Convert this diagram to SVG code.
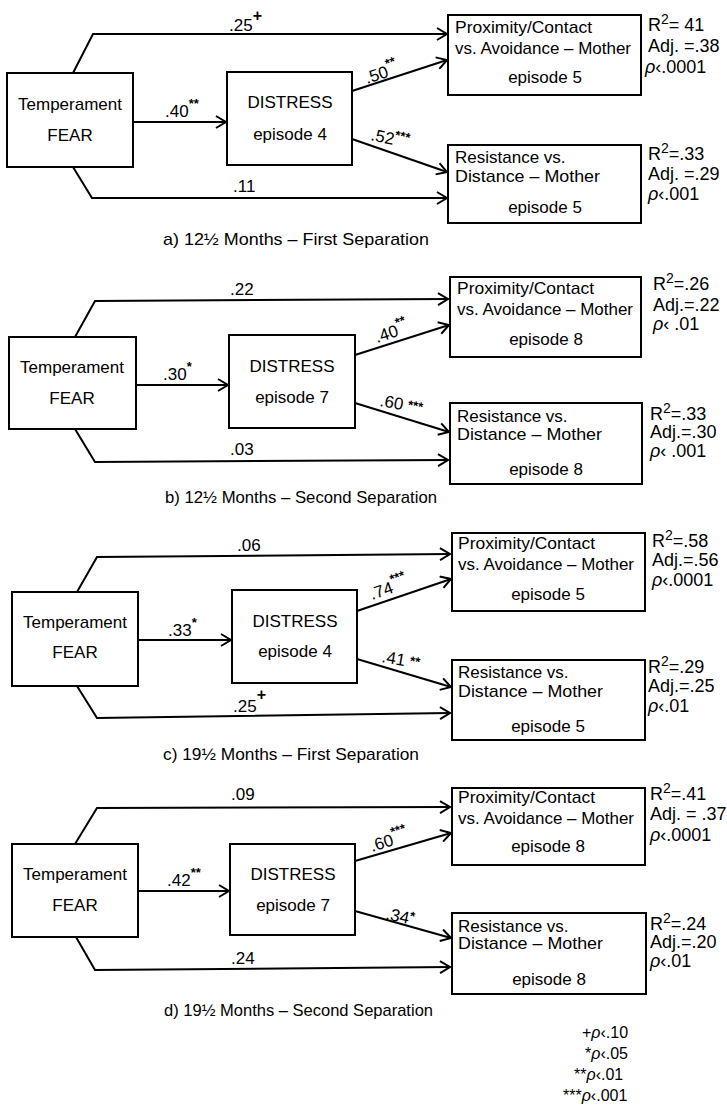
<svg xmlns="http://www.w3.org/2000/svg" width="727" height="1109" viewBox="0 0 727 1109">
<defs>
<marker id="arr" markerUnits="userSpaceOnUse" markerWidth="14" markerHeight="14" refX="11" refY="7" orient="auto">
<path d="M1,1 L11,7 L1,13" fill="none" stroke="#000" stroke-width="2"/>
</marker>
<style>
.box{fill:#fff;stroke:#000;stroke-width:2}
.ln{fill:none;stroke:#000;stroke-width:2;marker-end:url(#arr)}
text{font-family:"Liberation Sans",Arial,sans-serif;font-size:17px;fill:#000}
.c{text-anchor:middle}
.st{font-size:18px}
.sup{font-size:13px;font-weight:bold}
.cap{font-size:17px}
.it{font-style:italic}
.lg{font-size:16px}
</style>
</defs>
<rect width="727" height="1109" fill="#fff"/>

<!-- Panel a -->
<g id="connectors-a">
<path class="ln" d="M73,73 L93,34 L447,34"/>
<path class="ln" d="M73,167 L92,198 L447,198"/>
<path class="ln" d="M133,122 L226,122"/>
<path class="ln" d="M352,91 L447,60"/>
<path class="ln" d="M352,139 L447,172"/>
<text x="229" y="31">.25<tspan dy="-10" font-size="16" font-weight="bold">+</tspan></text>
<text x="165" y="117">.40<tspan class="sup" dy="-9">**</tspan></text>
<text x="233" y="192">.11</text>
<text x="367" y="84" transform="rotate(-18 367 84)">.50<tspan class="sup" dy="-9">**</tspan></text>
<text x="370" y="140" transform="rotate(12 370 140)">.52<tspan class="sup" dy="-6">***</tspan></text>
</g>
<g id="a-temperament"><rect class="box" x="7" y="73" width="126" height="94"/><text class="c" x="70" y="110">Temperament</text><text class="c" x="70" y="141">FEAR</text></g>
<g id="a-distress"><rect class="box" x="227" y="72" width="125" height="93"/><text class="c" x="290" y="108">DISTRESS</text><text class="c" x="290" y="140">episode 4</text></g>
<g id="a-proximity"><rect class="box" x="448" y="15" width="193" height="80"/><text x="455" y="33" textLength="137" lengthAdjust="spacingAndGlyphs">Proximity/Contact</text><text x="455" y="54" textLength="176" lengthAdjust="spacingAndGlyphs">vs. Avoidance – Mother</text><text class="c" x="545" y="83">episode 5</text></g>
<g id="a-resistance"><rect class="box" x="448" y="145" width="193" height="78"/><text x="455" y="163">Resistance vs.</text><text x="455" y="182" textLength="145" lengthAdjust="spacingAndGlyphs">Distance – Mother</text><text class="c" x="545" y="213">episode 5</text></g>
<g id="a-stats1"><text class="st" x="648" y="31">R<tspan font-size="14" dy="-7">2</tspan><tspan dy="7">= 41</tspan></text><text class="st" x="648" y="52">Adj. =.38</text><text class="st" x="645" y="73"><tspan class="it">ρ</tspan>‹.0001</text></g>
<g id="a-stats2"><text class="st" x="648" y="160">R<tspan font-size="14" dy="-7">2</tspan><tspan dy="7">=.33</tspan></text><text class="st" x="648" y="180">Adj. =.29</text><text class="st" x="648" y="200"><tspan class="it">ρ</tspan>‹.001</text></g>
<text class="cap" x="163" y="245" textLength="266" lengthAdjust="spacingAndGlyphs">a) 12½ Months – First Separation</text>

<!-- Panel b -->
<g id="connectors-b">
<path class="ln" d="M75,337 L95,301 L448,299"/>
<path class="ln" d="M75,429 L95,462 L448,460"/>
<path class="ln" d="M136,385 L228,385"/>
<path class="ln" d="M355,355 L449,325"/>
<path class="ln" d="M355,403 L449,432"/>
<text x="230" y="295">.22</text>
<text x="163" y="380">.30<tspan class="sup" dy="-9">*</tspan></text>
<text x="230" y="455">.03</text>
<text x="377" y="343" transform="rotate(-18 377 343)">.40<tspan class="sup" dy="-9">**</tspan></text>
<text x="379" y="406" transform="rotate(10 379 406)">.60 <tspan class="sup" dy="-2">***</tspan></text>
</g>
<g id="b-temperament"><rect class="box" x="9" y="337" width="127" height="92"/><text class="c" x="72" y="373">Temperament</text><text class="c" x="72" y="404">FEAR</text></g>
<g id="b-distress"><rect class="box" x="229" y="335" width="126" height="93"/><text class="c" x="292" y="372">DISTRESS</text><text class="c" x="292" y="403">episode 7</text></g>
<g id="b-proximity"><rect class="box" x="450" y="277" width="191" height="80"/><text x="457" y="294" textLength="137" lengthAdjust="spacingAndGlyphs">Proximity/Contact</text><text x="457" y="315" textLength="176" lengthAdjust="spacingAndGlyphs">vs. Avoidance – Mother</text><text class="c" x="546" y="345">episode 8</text></g>
<g id="b-resistance"><rect class="box" x="450" y="403" width="192" height="81"/><text x="457" y="422">Resistance vs.</text><text x="457" y="440" textLength="145" lengthAdjust="spacingAndGlyphs">Distance – Mother</text><text class="c" x="546" y="475">episode 8</text></g>
<g id="b-stats1"><text class="st" x="653" y="290">R<tspan font-size="14" dy="-7">2</tspan><tspan dy="7">=.26</tspan></text><text class="st" x="653" y="311">Adj.=.22</text><text class="st" x="653" y="330"><tspan class="it">ρ</tspan>‹ .01</text></g>
<g id="b-stats2"><text class="st" x="650" y="420">R<tspan font-size="14" dy="-7">2</tspan><tspan dy="7">=.33</tspan></text><text class="st" x="650" y="438">Adj.=.30</text><text class="st" x="650" y="457"><tspan class="it">ρ</tspan>‹ .001</text></g>
<text class="cap" x="165" y="503" textLength="272" lengthAdjust="spacingAndGlyphs">b) 12½ Months – Second Separation</text>

<!-- Panel c -->
<g id="connectors-c">
<path class="ln" d="M77,592 L97,557 L450,554"/>
<path class="ln" d="M77,686 L97,718 L450,713"/>
<path class="ln" d="M138,640 L231,640"/>
<path class="ln" d="M357,611 L451,579"/>
<path class="ln" d="M357,659 L451,687"/>
<text x="237" y="551">.06</text>
<text x="168" y="636">.33<tspan class="sup" dy="-9">*</tspan></text>
<text x="233" y="712">.25<tspan dy="-12" font-size="16" font-weight="bold">+</tspan></text>
<text x="372" y="600" transform="rotate(-19 372 600)">.74<tspan class="sup" dy="-9">***</tspan></text>
<text x="381" y="662" transform="rotate(10 381 662)">.41 <tspan class="sup" dy="-2">**</tspan></text>
</g>
<g id="c-temperament"><rect class="box" x="12" y="592" width="126" height="94"/><text class="c" x="75" y="628">Temperament</text><text class="c" x="75" y="658">FEAR</text></g>
<g id="c-distress"><rect class="box" x="232" y="590" width="125" height="93"/><text class="c" x="295" y="627">DISTRESS</text><text class="c" x="295" y="657">episode 4</text></g>
<g id="c-proximity"><rect class="box" x="452" y="533" width="193" height="78"/><text x="458" y="549" textLength="137" lengthAdjust="spacingAndGlyphs">Proximity/Contact</text><text x="458" y="570" textLength="176" lengthAdjust="spacingAndGlyphs">vs. Avoidance – Mother</text><text class="c" x="548" y="600">episode 5</text></g>
<g id="c-resistance"><rect class="box" x="452" y="660" width="193" height="80"/><text x="458" y="678">Resistance vs.</text><text x="458" y="697" textLength="145" lengthAdjust="spacingAndGlyphs">Distance – Mother</text><text class="c" x="548" y="732">episode 5</text></g>
<g id="c-stats1"><text class="st" x="652" y="547">R<tspan font-size="14" dy="-7">2</tspan><tspan dy="7">=.58</tspan></text><text class="st" x="652" y="566">Adj.=.56</text><text class="st" x="652" y="586"><tspan class="it">ρ</tspan>‹.0001</text></g>
<g id="c-stats2"><text class="st" x="648" y="673">R<tspan font-size="14" dy="-7">2</tspan><tspan dy="7">=.29</tspan></text><text class="st" x="648" y="692">Adj.=.25</text><text class="st" x="648" y="712"><tspan class="it">ρ</tspan>‹.01</text></g>
<text class="cap" x="163" y="760" textLength="256" lengthAdjust="spacingAndGlyphs">c) 19½ Months – First Separation</text>

<!-- Panel d -->
<g id="connectors-d">
<path class="ln" d="M75,844 L97,808 L450,807"/>
<path class="ln" d="M76,937 L95,970 L450,967"/>
<path class="ln" d="M138,891 L229,891"/>
<path class="ln" d="M355,861 L451,833"/>
<path class="ln" d="M355,911 L451,938"/>
<text x="231" y="800">.09</text>
<text x="167" y="886">.42<tspan class="sup" dy="-9">**</tspan></text>
<text x="231" y="964">.24</text>
<text x="372" y="852" transform="rotate(-17 372 852)">.60<tspan class="sup" dy="-9">***</tspan></text>
<text x="385" y="919" transform="rotate(12 385 919)">.34<tspan class="sup" dy="-4">*</tspan></text>
</g>
<g id="d-temperament"><rect class="box" x="12" y="844" width="126" height="93"/><text class="c" x="75" y="880">Temperament</text><text class="c" x="75" y="911">FEAR</text></g>
<g id="d-distress"><rect class="box" x="230" y="844" width="125" height="91"/><text class="c" x="293" y="880">DISTRESS</text><text class="c" x="293" y="911">episode 7</text></g>
<g id="d-proximity"><rect class="box" x="452" y="788" width="193" height="77"/><text x="458" y="803" textLength="137" lengthAdjust="spacingAndGlyphs">Proximity/Contact</text><text x="458" y="824" textLength="176" lengthAdjust="spacingAndGlyphs">vs. Avoidance – Mother</text><text class="c" x="548" y="852">episode 8</text></g>
<g id="d-resistance"><rect class="box" x="452" y="913" width="194" height="81"/><text x="458" y="932">Resistance vs.</text><text x="458" y="949" textLength="145" lengthAdjust="spacingAndGlyphs">Distance – Mother</text><text class="c" x="549" y="985">episode 8</text></g>
<g id="d-stats1"><text class="st" x="650" y="800">R<tspan font-size="14" dy="-7">2</tspan><tspan dy="7">=.41</tspan></text><text class="st" x="650" y="820">Adj. = .37</text><text class="st" x="650" y="841"><tspan class="it">ρ</tspan>‹.0001</text></g>
<g id="d-stats2"><text class="st" x="650" y="930">R<tspan font-size="14" dy="-7">2</tspan><tspan dy="7">=.24</tspan></text><text class="st" x="650" y="948">Adj.=.20</text><text class="st" x="650" y="967"><tspan class="it">ρ</tspan>‹.01</text></g>
<text class="cap" x="164" y="1016" textLength="269" lengthAdjust="spacingAndGlyphs">d) 19½ Months – Second Separation</text>

<!-- Legend -->
<g id="legend">
<text class="lg" x="582" y="1038">+<tspan class="it">ρ</tspan>‹.10</text>
<text class="lg" x="585" y="1059">*<tspan class="it">ρ</tspan>‹.05</text>
<text class="lg" x="574" y="1080">**<tspan class="it">ρ</tspan>‹.01</text>
<text class="lg" x="563" y="1101">***<tspan class="it">ρ</tspan>‹.001</text>
</g>
</svg>
